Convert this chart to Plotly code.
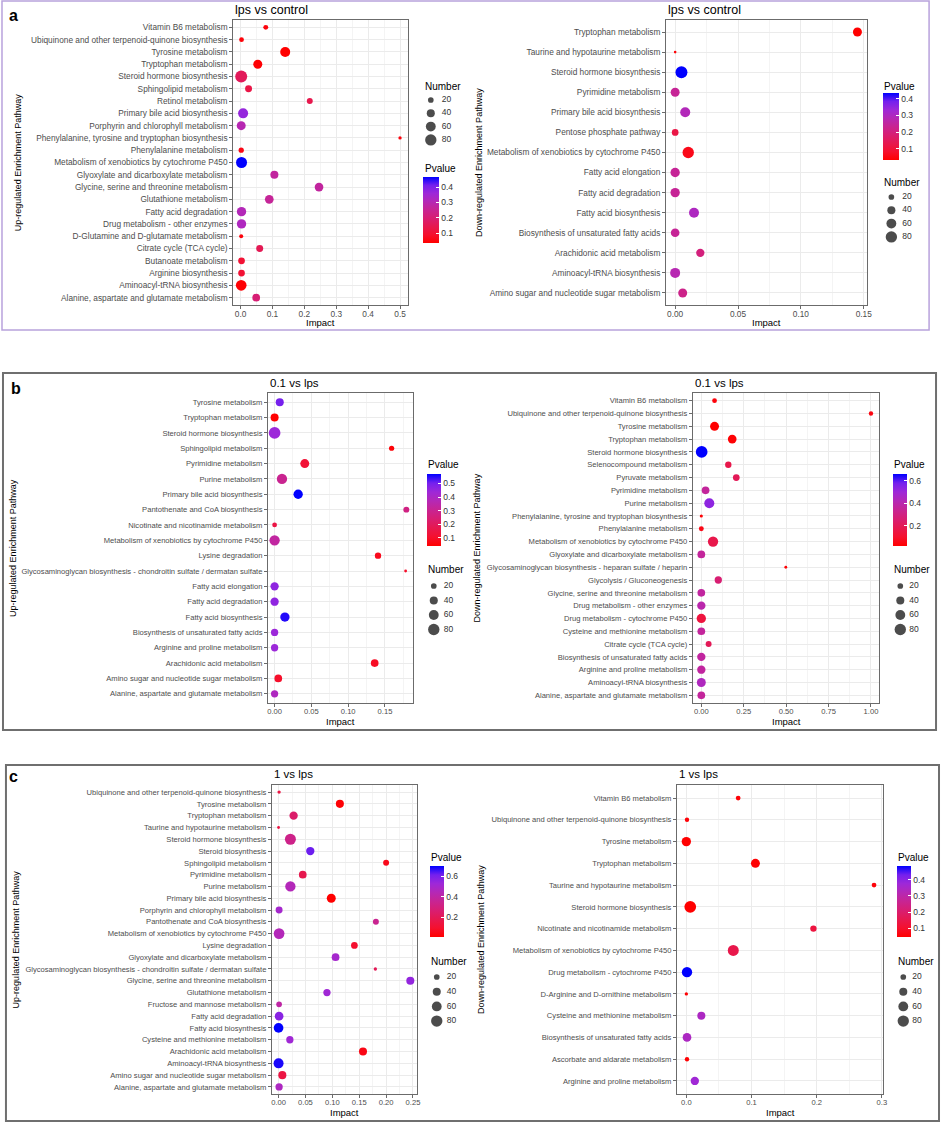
import numpy as np
import plotly.graph_objects as go

W, H = 946, 1123
FONT = "Liberation Sans, Arial, Helvetica, sans-serif"

# ---------------- data ----------------
# Panel a : lps vs control
a_up_pathways = ["Vitamin B6 metabolism", "Ubiquinone and other terpenoid-quinone biosynthesis",
                 "Tyrosine metabolism", "Tryptophan metabolism", "Steroid hormone biosynthesis",
                 "Sphingolipid metabolism", "Retinol metabolism", "Primary bile acid biosynthesis",
                 "Porphyrin and chlorophyll metabolism", "Phenylalanine, tyrosine and tryptophan biosynthesis",
                 "Phenylalanine metabolism", "Metabolism of xenobiotics by cytochrome P450",
                 "Glyoxylate and dicarboxylate metabolism", "Glycine, serine and threonine metabolism",
                 "Glutathione metabolism", "Fatty acid degradation", "Drug metabolism - other enzymes",
                 "D-Glutamine and D-glutamate metabolism", "Citrate cycle (TCA cycle)",
                 "Butanoate metabolism", "Arginine biosynthesis", "Aminoacyl-tRNA biosynthesis",
                 "Alanine, aspartate and glutamate metabolism"]
a_up_impact = [0.079, 0.003, 0.140, 0.054, 0.002, 0.025, 0.217, 0.008, 0.002, 0.500, 0.002, 0.003,
               0.106, 0.246, 0.090, 0.003, 0.003, 0.002, 0.060, 0.003, 0.003, 0.002, 0.049]
a_up_pvalue = [0.05, 0.045, 0.035, 0.04, 0.16, 0.13, 0.14, 0.37, 0.30, 0.05, 0.06, 0.467,
               0.27, 0.27, 0.26, 0.31, 0.32, 0.05, 0.15, 0.10, 0.10, 0.04, 0.20]
a_up_number = [15, 14, 62, 50, 89, 30, 22, 62, 50, 7, 17, 75, 40, 47, 47, 54, 54, 10, 30, 28, 28, 71, 37]

a_down_pathways = ["Tryptophan metabolism", "Taurine and hypotaurine metabolism", "Steroid hormone biosynthesis",
                   "Pyrimidine metabolism", "Primary bile acid biosynthesis", "Pentose phosphate pathway",
                   "Metabolism of xenobiotics by cytochrome P450", "Fatty acid elongation",
                   "Fatty acid degradation", "Fatty acid biosynthesis", "Biosynthesis of unsaturated fatty acids",
                   "Arachidonic acid metabolism", "Aminoacyl-tRNA biosynthesis",
                   "Amino sugar and nucleotide sugar metabolism"]
a_down_impact = [0.145, 0.0, 0.005, 0.0, 0.008, 0.0, 0.0104, 0.0, 0.0, 0.015, 0.0, 0.020, 0.0, 0.006]
a_down_pvalue = [0.033, 0.04, 0.435, 0.24, 0.29, 0.12, 0.06, 0.24, 0.24, 0.30, 0.24, 0.20, 0.28, 0.22]
a_down_number = [50, 4, 89, 50, 62, 28, 80, 54, 54, 62, 47, 43, 62, 50]

# Panel b : 0.1 vs lps
b_up_pathways = ["Tyrosine metabolism", "Tryptophan metabolism", "Steroid hormone biosynthesis",
                 "Sphingolipid metabolism", "Pyrimidine metabolism", "Purine metabolism",
                 "Primary bile acid biosynthesis", "Pantothenate and CoA biosynthesis",
                 "Nicotinate and nicotinamide metabolism", "Metabolism of xenobiotics by cytochrome P450",
                 "Lysine degradation",
                 "Glycosaminoglycan biosynthesis - chondroitin sulfate / dermatan sulfate",
                 "Fatty acid elongation", "Fatty acid degradation", "Fatty acid biosynthesis",
                 "Biosynthesis of unsaturated fatty acids", "Arginine and proline metabolism",
                 "Arachidonic acid metabolism", "Amino sugar and nucleotide sugar metabolism",
                 "Alanine, aspartate and glutamate metabolism"]
b_up_impact = [0.007, 0.0, 0.0, 0.159, 0.041, 0.010, 0.032, 0.179, 0.0, 0.0, 0.1405, 0.178,
               0.0, 0.0, 0.014, 0.0, 0.0, 0.136, 0.005, 0.0]
b_up_pvalue = [0.50, 0.038, 0.44, 0.05, 0.12, 0.30, 0.57, 0.27, 0.15, 0.33, 0.08, 0.10,
               0.46, 0.46, 0.55, 0.44, 0.44, 0.09, 0.10, 0.39]
b_up_number = [40, 40, 85, 17, 50, 66, 54, 22, 14, 66, 25, 5, 43, 43, 54, 33, 33, 37, 37, 33]

b_down_pathways = ["Vitamin B6 metabolism", "Ubiquinone and other terpenoid-quinone biosynthesis",
                   "Tyrosine metabolism", "Tryptophan metabolism", "Steroid hormone biosynthesis",
                   "Selenocompound metabolism", "Pyruvate metabolism", "Pyrimidine metabolism",
                   "Purine metabolism", "Phenylalanine, tyrosine and tryptophan biosynthesis",
                   "Phenylalanine metabolism", "Metabolism of xenobiotics by cytochrome P450",
                   "Glyoxylate and dicarboxylate metabolism",
                   "Glycosaminoglycan biosynthesis - heparan sulfate / heparin",
                   "Glycolysis / Gluconeogenesis", "Glycine, serine and threonine metabolism",
                   "Drug metabolism - other enzymes", "Drug metabolism - cytochrome P450",
                   "Cysteine and methionine metabolism", "Citrate cycle (TCA cycle)",
                   "Biosynthesis of unsaturated fatty acids", "Arginine and proline metabolism",
                   "Aminoacyl-tRNA biosynthesis", "Alanine, aspartate and glutamate metabolism"]
b_down_impact = [0.078, 1.0, 0.078, 0.182, 0.002, 0.159, 0.206, 0.025, 0.047, 0.0, 0.0, 0.069,
                 0.0, 0.498, 0.100, 0.0, 0.0, 0.0, 0.0, 0.043, 0.0, 0.0, 0.0, 0.0]
b_down_pvalue = [0.04, 0.05, 0.021, 0.03, 0.66, 0.17, 0.20, 0.36, 0.53, 0.03, 0.06, 0.17,
                 0.36, 0.03, 0.26, 0.37, 0.40, 0.14, 0.36, 0.20, 0.37, 0.37, 0.44, 0.36]
b_down_number = [14, 12, 50, 47, 85, 25, 28, 37, 62, 6, 15, 66, 37, 5, 33, 37, 43, 54, 37, 22, 43, 43, 50, 37]

# Panel c : 1 vs lps
c_up_pathways = ["Ubiquinone and other terpenoid-quinone biosynthesis", "Tyrosine metabolism",
                 "Tryptophan metabolism", "Taurine and hypotaurine metabolism",
                 "Steroid hormone biosynthesis", "Steroid biosynthesis", "Sphingolipid metabolism",
                 "Pyrimidine metabolism", "Purine metabolism", "Primary bile acid biosynthesis",
                 "Porphyrin and chlorophyll metabolism", "Pantothenate and CoA biosynthesis",
                 "Metabolism of xenobiotics by cytochrome P450", "Lysine degradation",
                 "Glyoxylate and dicarboxylate metabolism",
                 "Glycosaminoglycan biosynthesis - chondroitin sulfate / dermatan sulfate",
                 "Glycine, serine and threonine metabolism", "Glutathione metabolism",
                 "Fructose and mannose metabolism", "Fatty acid degradation", "Fatty acid biosynthesis",
                 "Cysteine and methionine metabolism", "Arachidonic acid metabolism",
                 "Aminoacyl-tRNA biosynthesis", "Amino sugar and nucleotide sugar metabolism",
                 "Alanine, aspartate and glutamate metabolism"]
c_up_impact = [0.001, 0.114, 0.028, 0.0, 0.022, 0.059, 0.200, 0.045, 0.022, 0.098, 0.001, 0.181,
               0.001, 0.141, 0.106, 0.180, 0.245, 0.090, 0.001, 0.001, 0.0, 0.021, 0.157, 0.0, 0.007, 0.001]
c_up_pvalue = [0.15, 0.02, 0.25, 0.15, 0.33, 0.62, 0.06, 0.18, 0.45, 0.01, 0.50, 0.35, 0.45,
               0.10, 0.50, 0.20, 0.55, 0.52, 0.40, 0.57, 0.70, 0.52, 0.05, 0.68, 0.15, 0.47]
c_up_number = [7, 40, 43, 5, 75, 43, 22, 37, 66, 50, 30, 22, 71, 28, 37, 7, 40, 33, 20, 47, 58, 33, 40, 62, 40, 33]

c_down_pathways = ["Vitamin B6 metabolism", "Ubiquinone and other terpenoid-quinone biosynthesis",
                   "Tyrosine metabolism", "Tryptophan metabolism", "Taurine and hypotaurine metabolism",
                   "Steroid hormone biosynthesis", "Nicotinate and nicotinamide metabolism",
                   "Metabolism of xenobiotics by cytochrome P450", "Drug metabolism - cytochrome P450",
                   "D-Arginine and D-ornithine metabolism", "Cysteine and methionine metabolism",
                   "Biosynthesis of unsaturated fatty acids", "Ascorbate and aldarate metabolism",
                   "Arginine and proline metabolism"]
c_down_impact = [0.0795, 0.001, 0.0, 0.106, 0.288, 0.006, 0.195, 0.072, 0.001, 0.0, 0.023, 0.001, 0.001, 0.013]
c_down_pvalue = [0.055, 0.055, 0.047, 0.05, 0.06, 0.047, 0.13, 0.15, 0.483, 0.05, 0.34, 0.34, 0.05, 0.37]
c_down_number = [14, 12, 54, 50, 14, 85, 25, 75, 66, 7, 40, 47, 12, 43]

panel_titles = ["lps vs control", "lps vs control", "0.1 vs lps", "0.1 vs lps", "1 vs lps", "1 vs lps"]
size_breaks = [20, 40, 60, 80]

# ---------------- layout spec (pixels) ----------------
datasets = [
    (a_up_pathways, a_up_impact, a_up_pvalue, a_up_number),
    (a_down_pathways, a_down_impact, a_down_pvalue, a_down_number),
    (b_up_pathways, b_up_impact, b_up_pvalue, b_up_number),
    (b_down_pathways, b_down_impact, b_down_pvalue, b_down_number),
    (c_up_pathways, c_up_impact, c_up_pvalue, c_up_number),
    (c_down_pathways, c_down_impact, c_down_pvalue, c_down_number),
]
specs = [
    dict(plot=(234, 410, 20, 305), title_y=10, imp_y=322, ytitle_x=18, ytitle="Up-regulated Enrichment Pathway",
         dtick=0.1, fmt=".1f", fs=8.3, cb=(425, 441, 177, 243), cb_title=(425, 168), cb_dtick=0.1,
         num_title=(425, 86), num=(433, 100, 13.3, 446)),
    dict(plot=(670, 872, 20, 305), title_y=10, imp_y=322, ytitle_x=482, ytitle="Down-regulated Enrichment Pathway",
         dtick=0.05, fmt=".2f", fs=8.3, cb=(889, 905, 93, 160), cb_title=(888, 86), cb_dtick=0.1,
         num_title=(888, 182), num=(897, 197, 13.3, 910)),
    dict(plot=(269, 415, 393, 703), title_y=383, imp_y=721, ytitle_x=12, ytitle="Up-regulated Enrichment Pathway",
         dtick=0.05, fmt=".2f", fs=7.6, cb=(429, 443, 474, 546), cb_title=(428, 465), cb_dtick=0.1,
         num_title=(428, 569), num=(436, 586, 14.5, 448)),
    dict(plot=(697, 885, 393, 703), title_y=383, imp_y=721, ytitle_x=480, ytitle="Down-regulated Enrichment Pathway",
         dtick=0.25, fmt=".2f", fs=7.6, cb=(899, 913, 474, 546), cb_title=(898, 465), cb_dtick=0.2,
         num_title=(898, 569), num=(906, 586, 14.5, 917)),
    dict(plot=(273, 419, 785, 1094), title_y=774, imp_y=1112, ytitle_x=15, ytitle="Up-regulated Enrichment Pathway",
         dtick=0.05, fmt=".2f", fs=7.6, cb=(432, 446, 866, 937), cb_title=(431, 857), cb_dtick=0.2,
         num_title=(431, 961), num=(439, 977, 14.7, 451)),
    dict(plot=(681, 889, 785, 1094), title_y=774, imp_y=1112, ytitle_x=483, ytitle="Down-regulated Enrichment Pathway",
         dtick=0.1, fmt=".1f", fs=7.6, cb=(903, 917, 866, 937), cb_title=(902, 857), cb_dtick=0.1,
         num_title=(902, 961), num=(909, 977, 14.7, 920)),
]

# ggplot2-like red -> blue gradient
CS = [[0.0, '#FF0000'], [0.125, '#F5102E'], [0.25, '#E6184F'], [0.375, '#D81E72'], [0.5, '#C82492'],
      [0.625, '#B528B5'], [0.75, '#9E28D8'], [0.875, '#7420EE'], [1.0, '#0000FF']]


def px(x):
    return min(max(x / W, 0.0), 1.0)


def py(y):
    return min(max(1 - y / H, 0.0), 1.0)


def diam(n):
    return 1.27 * np.sqrt(np.asarray(n, dtype=float))


fig = go.Figure()
annotations = []
layout = {}

for i, (ds, sp) in enumerate(zip(datasets, specs), start=1):
    names, imp, pv, num = ds
    sfx = "" if i == 1 else str(i)
    ca = "coloraxis" + sfx
    fig.add_trace(go.Scatter(
        x=imp, y=names, mode="markers", xaxis="x" + sfx, yaxis="y" + sfx, showlegend=False,
        marker=dict(size=diam(num), sizemode="diameter", color=pv, coloraxis=ca, line=dict(width=0), opacity=1),
        customdata=np.stack([pv, num], axis=1), cliponaxis=False,
        hovertemplate="%{y}<br>Impact %{x}<br>Pvalue %{customdata[0]}<br>Number %{customdata[1]}<extra></extra>"))

    x0, x1, y0, y1 = sp["plot"]
    lo, hi = min(imp), max(imp)
    pad = 0.05 * (hi - lo)
    n = len(names)
    layout["xaxis" + sfx] = dict(
        domain=[px(x0), px(x1)], anchor="y" + sfx, range=[lo - pad, hi + pad],
        tick0=0, dtick=sp["dtick"], tickformat=sp["fmt"],
        showline=True, mirror=True, linecolor="#6b6b6b", linewidth=1.1,
        ticks="outside", ticklen=3, tickcolor="#6b6b6b", tickwidth=1, ticklabelstandoff=-2,
        tickfont=dict(family=FONT, size=sp["fs"], color="#4D4D4D"),
        showgrid=True, gridcolor="#EBEBEB", gridwidth=1, zeroline=False,
        minor=dict(tick0=0, dtick=sp["dtick"] / 2, showgrid=True, gridcolor="#F4F4F4", gridwidth=0.6, ticks=""),
        fixedrange=True)
    layout["yaxis" + sfx] = dict(
        domain=[py(y1), py(y0)], anchor="x" + sfx, type="category",
        categoryorder="array", categoryarray=list(reversed(names)), range=[-0.6, n - 0.4],
        showline=True, mirror=True, linecolor="#6b6b6b", linewidth=1.1,
        ticks="outside", ticklen=3, tickcolor="#6b6b6b", tickwidth=1,
        tickfont=dict(family=FONT, size=sp["fs"], color="#4D4D4D"),
        showgrid=True, gridcolor="#EBEBEB", gridwidth=1, zeroline=False, fixedrange=True)

    # colour bar
    bx0, bx1, by0, by1 = sp["cb"]
    layout[ca] = dict(
        colorscale=CS, cmin=min(pv), cmax=max(pv),
        colorbar=dict(x=px(bx0), xanchor="left", y=py(by0), yanchor="top",
                      len=by1 - by0, lenmode="pixels", thickness=bx1 - bx0, thicknessmode="pixels",
                      xpad=0, ypad=0, outlinewidth=0, borderwidth=0,
                      tick0=0, dtick=sp["cb_dtick"], ticks="inside", ticklen=3, tickcolor="white", tickwidth=1,
                      tickfont=dict(family=FONT, size=8.5, color="#333333"), title=dict(text="")))

    # texts
    annotations.append(dict(text=panel_titles[i - 1], x=px(x0), y=py(sp["title_y"]), xref="paper", yref="paper",
                            xanchor="left", yanchor="middle", showarrow=False,
                            font=dict(family=FONT, size=12.5 if i <= 2 else 11.5, color="black")))
    annotations.append(dict(text="Impact", x=px((x0 + x1) / 2), y=py(sp["imp_y"]), xref="paper", yref="paper",
                            xanchor="center", yanchor="middle", showarrow=False,
                            font=dict(family=FONT, size=9.5, color="black")))
    annotations.append(dict(text=sp["ytitle"], x=px(sp["ytitle_x"]), y=py((y0 + y1) / 2), xref="paper",
                            yref="paper", xanchor="center", yanchor="middle", textangle=-90, showarrow=False,
                            font=dict(family=FONT, size=9, color="black")))
    tx, ty = sp["cb_title"]
    annotations.append(dict(text="Pvalue", x=px(tx), y=py(ty), xref="paper", yref="paper", xanchor="left",
                            yanchor="middle", showarrow=False, font=dict(family=FONT, size=10, color="black")))
    nx, ny = sp["num_title"]
    annotations.append(dict(text="Number", x=px(nx), y=py(ny), xref="paper", yref="paper", xanchor="left",
                            yanchor="middle", showarrow=False, font=dict(family=FONT, size=10, color="black")))

    # size legend drawn in a small inset axis (10 px per unit, key centre at x=0)
    k = 6 + i
    cx, fy, step, lab_x = sp["num"]
    layout["xaxis%d" % k] = dict(domain=[px(cx - 10), px(cx + 20)], range=[-1, 2], visible=False,
                                 anchor="y%d" % k, fixedrange=True)
    top = fy - step / 2
    bot = fy + 3.5 * step
    labels = [str(b) for b in size_breaks]
    layout["yaxis%d" % k] = dict(domain=[py(bot), py(top)], type="category", categoryorder="array",
                                 categoryarray=list(reversed(labels)), range=[-0.5, 3.5], visible=False,
                                 anchor="x%d" % k, fixedrange=True)
    fig.add_trace(go.Scatter(x=[0] * len(labels), y=labels, mode="markers", xaxis="x%d" % k, yaxis="y%d" % k,
                             marker=dict(size=diam(size_breaks), color="black", line=dict(width=0)),
                             showlegend=False, hoverinfo="skip", cliponaxis=False))
    fig.add_trace(go.Scatter(x=[(lab_x - 2 - cx) / 10] * len(labels), y=labels, mode="text", text=labels,
                             textposition="middle right", xaxis="x%d" % k, yaxis="y%d" % k,
                             textfont=dict(family=FONT, size=8.5, color="#333333"),
                             showlegend=False, hoverinfo="skip", cliponaxis=False))

# panel letters
for letter, (lx, ly) in zip(["a", "b", "c"], [(13, 15), (15, 389), (13, 776)]):
    annotations.append(dict(text="<b>%s</b>" % letter, x=px(lx), y=py(ly), xref="paper", yref="paper",
                            xanchor="center", yanchor="middle", showarrow=False,
                            font=dict(family=FONT, size=16, color="black")))

shapes = [
    dict(type="rect", xref="paper", yref="paper", x0=px(1), x1=px(935), y0=py(1), y1=py(330),
         line=dict(color="#B8A2DC", width=1.5), layer="above"),
    dict(type="rect", xref="paper", yref="paper", x0=px(2), x1=px(942), y0=py(373), y1=py(730),
         line=dict(color="#6f6f6f", width=2), layer="above"),
    dict(type="rect", xref="paper", yref="paper", x0=px(5), x1=px(945), y0=py(765), y1=py(1121),
         line=dict(color="#6f6f6f", width=2), layer="above"),
]

fig.update_layout(width=W, height=H, margin=dict(l=0, r=0, t=0, b=0), autosize=False,
                  paper_bgcolor="white", plot_bgcolor="white", showlegend=False,
                  font=dict(family=FONT), annotations=annotations, shapes=shapes, **layout)

fig.write_html("out.html", config={"displayModeBar": False},
               post_script="document.body.style.margin='0';document.body.style.overflow='hidden';")
